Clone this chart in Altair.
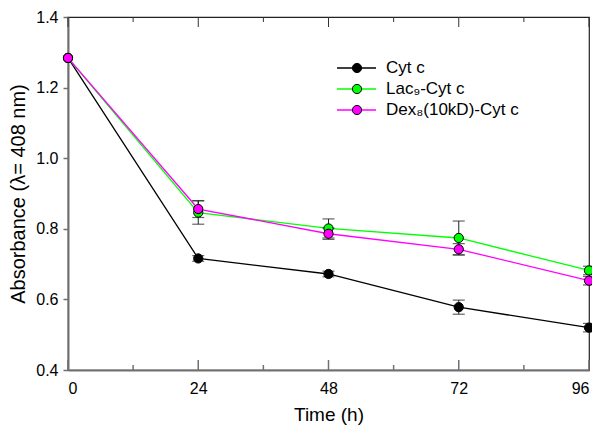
import altair as alt
import pandas as pd

times = [0, 24, 48, 72, 96]
series_names = ["Cyt c", "Lac₉-Cyt c", "Dex₈(10kD)-Cyt c"]
cyt = [1.284, 0.716, 0.672, 0.578, 0.520]
cyt_err = [0, 0.008, 0.008, 0.020, 0.012]
lac = [1.284, 0.846, 0.801, 0.774, 0.682]
lac_err = [0, 0.033, 0.027, 0.048, 0.012]
dex = [1.284, 0.856, 0.786, 0.742, 0.653]
dex_err = [0, 0.024, 0.016, 0.016, 0.012]
colors = ["#000000", "#00ff00", "#ff00ff"]
major_ticks = [0, 24, 48, 72, 96]
minor_ticks = [12, 36, 60, 84]
y_ticks = [0.4, 0.6, 0.8, 1.0, 1.2, 1.4]

rows = []
for name, vals, errs in [(series_names[0], cyt, cyt_err),
                         (series_names[1], lac, lac_err),
                         (series_names[2], dex, dex_err)]:
    for i, (t, v, e) in enumerate(zip(times, vals, errs)):
        rows.append({"series": name, "order": i, "time": t, "value": v,
                     "lo": v - e, "hi": v + e, "err": e})
df = pd.DataFrame(rows)
df_err = df[df["err"] > 0]

W, H = 521, 353
FONT = "Liberation Sans"

xscale = alt.Scale(domain=[0, 96], nice=False, zero=False)
yscale = alt.Scale(domain=[0.4, 1.4], nice=False, zero=False)
cscale = alt.Scale(domain=series_names, range=colors)

X = alt.X("time:Q", scale=xscale,
          axis=alt.Axis(values=major_ticks, title="Time (h)", ticks=False,
                        labelPadding=10, titlePadding=9, grid=False,
                        domainColor="#707070", domainWidth=2,
                        labelFontSize=16, titleFontSize=19,
                        labelFont=FONT, titleFont=FONT,
                        labelColor="black", titleColor="black",
                        titleFontWeight="normal"))
Y = alt.Y("value:Q", scale=yscale,
          axis=alt.Axis(values=y_ticks, format=".1f",
                        title="Absorbance (λ= 408 nm)", tickSize=5,
                        tickColor="#707070", tickWidth=1.5,
                        labelPadding=5, titlePadding=7, grid=False,
                        domainColor="#707070", domainWidth=2,
                        labelFontSize=16, titleFontSize=20,
                        labelFont=FONT, titleFont=FONT,
                        labelColor="black", titleColor="black",
                        titleFontWeight="normal"))

base = alt.Chart(df)

lines = base.mark_line(strokeWidth=1.3).encode(
    x=X, y=Y, color=alt.Color("series:N", scale=cscale, legend=None),
    detail="series:N", order="order:Q")

err_base = alt.Chart(df_err)
err_rules = err_base.mark_rule(color="#222222", strokeWidth=1).encode(
    x="time:Q", y="lo:Q", y2="hi:Q")
err_lo = err_base.mark_tick(orient="horizontal", size=12, thickness=1.2,
                            color="#222222").encode(x="time:Q", y="lo:Q")
err_hi = err_base.mark_tick(orient="horizontal", size=12, thickness=1.2,
                            color="#222222").encode(x="time:Q", y="hi:Q")

points = base.mark_point(filled=True, shape="circle", size=85, opacity=1,
                         stroke="black", strokeWidth=1).encode(
    x="time:Q", y="value:Q",
    fill=alt.Color("series:N", scale=cscale, legend=None))

tick_df_major = pd.DataFrame({"t": major_ticks})
tick_df_minor = pd.DataFrame({"t": minor_ticks})
bot_major = alt.Chart(tick_df_major).mark_rule(color="#707070", strokeWidth=1.5).encode(
    x="t:Q", y=alt.value(H), y2=alt.value(H - 10))
bot_minor = alt.Chart(tick_df_minor).mark_rule(color="#707070", strokeWidth=1.5).encode(
    x="t:Q", y=alt.value(H), y2=alt.value(H - 5))
top_major = alt.Chart(tick_df_major).mark_rule(color="#333333", strokeWidth=1).encode(
    x="t:Q", y=alt.value(0), y2=alt.value(10))
top_minor = alt.Chart(tick_df_minor).mark_rule(color="#333333", strokeWidth=1).encode(
    x="t:Q", y=alt.value(0), y2=alt.value(5))

main = alt.layer(bot_major, bot_minor, top_major, top_minor,
                 lines, err_rules, err_lo, err_hi, points)

leg_df = pd.DataFrame({"series": series_names, "idx": [0, 1, 2]})
LY = alt.Y("idx:Q", scale=alt.Scale(domain=[0, 2], range=[51, 93], nice=False,
                                    zero=False), axis=None)
leg_base = alt.Chart(leg_df)
leg_line = leg_base.mark_rule(strokeWidth=1.3).encode(
    x=alt.value(269), x2=alt.value(308), y=LY,
    color=alt.Color("series:N", scale=cscale, legend=None))
leg_pt = leg_base.mark_point(filled=True, shape="circle", size=85, opacity=1,
                             stroke="black", strokeWidth=1).encode(
    x=alt.value(289), y=LY,
    fill=alt.Color("series:N", scale=cscale, legend=None))
leg_txt = leg_base.mark_text(align="left", baseline="middle", fontSize=17,
                             font=FONT, color="black").encode(
    x=alt.value(318), y=LY, text="series:N")
legend = alt.layer(leg_line, leg_pt, leg_txt)

chart = alt.layer(main, legend).resolve_scale(y="independent").properties(
    width=W, height=H,
    autosize=alt.AutoSizeParams(type="none"),
    padding={"left": 60, "top": 9, "right": 3, "bottom": 55},
    background="white",
).configure_view(stroke="#222222", strokeWidth=1.2)

chart.save("out.html", embed_options={"renderer": "svg", "actions": False})
